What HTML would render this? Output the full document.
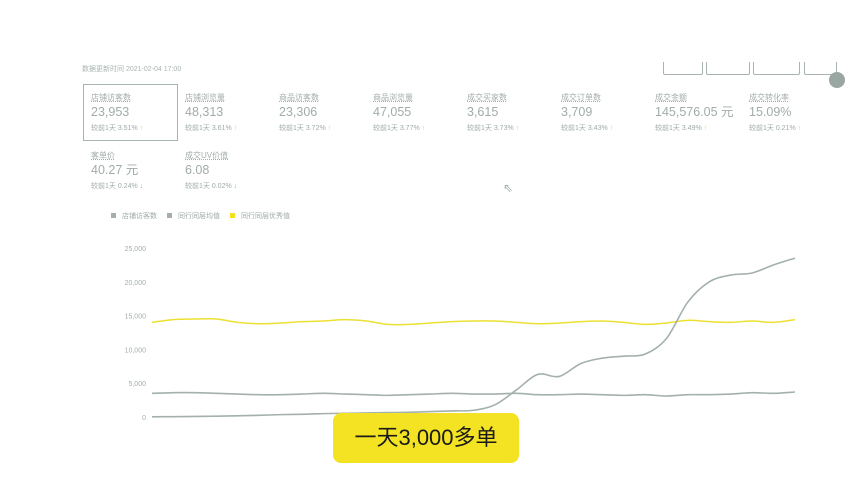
<!DOCTYPE html>
<html><head><meta charset="utf-8"><style>
body{margin:0;width:852px;height:480px;background:#fff;font-family:"Liberation Sans","Noto Sans CJK SC",sans-serif;position:relative;overflow:hidden;color:#9eaba7}
.card{position:absolute;width:94px;font-size:8px;white-space:nowrap}
.card .l{text-decoration:underline dotted;color:#a3aeab;height:10px}
.card .v{font-size:12.5px;margin-top:3px;color:#a0aca8;height:15px;line-height:15px}
.card .c{font-size:7px;margin-top:3px}
.up{color:#e8d820}
.btn{position:absolute;top:62px;height:12px;border:1px solid #a8b3b0;border-top:none;border-radius:0 0 2px 2px}
</style></head><body>
<div style="position:absolute;left:82px;top:64px;font-size:7px;color:#aab4b1">数据更新时间 2021-02-04 17:00</div>
<div class="btn" style="left:663px;width:38px"></div>
<div class="btn" style="left:706px;width:42px"></div>
<div class="btn" style="left:753px;width:45px"></div>
<div class="btn" style="left:804px;width:31px"></div>
<div style="position:absolute;left:829px;top:72px;width:16px;height:16px;border-radius:50%;background:#9aa6a2"></div>
<div style="position:absolute;left:83px;top:84px;width:93px;height:55px;border:1px solid #a8b3b0"></div>
<div id="cards"></div>
<div style="position:absolute;left:503px;top:181px;font-size:12px;color:#a0aca8">⇖</div>
<div style="position:absolute;left:111px;top:211px;font-size:7px;display:flex;gap:10px;align-items:center">
<span><span style="display:inline-block;width:5px;height:5px;background:#a3b0ac;margin-right:6px"></span>店铺访客数</span>
<span><span style="display:inline-block;width:5px;height:5px;background:#a3b0ac;margin-right:6px"></span>同行同层均值</span>
<span><span style="display:inline-block;width:5px;height:5px;background:#f0e020;margin-right:6px"></span>同行同层优秀值</span>
</div>
<svg id="chart" width="852" height="480" style="position:absolute;left:0;top:0"></svg>
<div style="position:absolute;left:333px;top:413px;width:186px;height:50px;background:#f3e323;border-radius:8px;font-size:22px;color:#1a1a1a;line-height:50px;text-align:center;font-family:'Liberation Sans','Noto Sans CJK SC',sans-serif">一天3,000多单</div>
<script>
const kpiLabels=["店铺访客数","店铺浏览量","商品访客数","商品浏览量","成交买家数","成交订单数","成交金额","成交转化率","客单价","成交UV价值"];
const kpiValues=["23,953","48,313","23,306","47,055","3,615","3,709","145,576.05 元","15.09%","40.27 元","6.08"];
const kpiChanges=["3.51%","3.61%","3.72%","3.77%","3.73%","3.43%","3.49%","0.21%","0.24%","0.02%"];
const kpiUp=[1,1,1,1,1,1,1,1,0,0];
const cards=document.getElementById('cards');
kpiLabels.forEach((l,i)=>{const d=document.createElement('div');d.className='card';


const r=i<8?0:1,c=i<8?i:i-8;d.style.left=(91+c*94)+'px';d.style.top=(92+r*58)+'px';
d.innerHTML=`<div class="l">${l}</div><div class="v">${kpiValues[i]}</div><div class="c">较前1天 ${kpiChanges[i]} <span class="${kpiUp[i]?'up':''}">${kpiUp[i]?'↑':'↓'}</span></div>`;cards.appendChild(d);});

const days=Array.from({length:31},(_,i)=>i+1);
const storeVisitors=[30,50,80,120,180,250,350,400,500,550,600,650,700,800,900,1000,1800,4000,6300,6000,7900,8700,9000,9300,11600,17000,20000,21000,21300,22500,23500];
const peerAvg=[3500,3600,3600,3500,3400,3300,3300,3400,3500,3400,3300,3200,3300,3400,3500,3400,3400,3500,3300,3300,3400,3300,3200,3300,3100,3300,3300,3400,3600,3500,3700];
const peerTop=[14000,14400,14500,14500,14000,13800,13900,14100,14200,14400,14200,13700,13700,13900,14100,14200,14200,14000,13800,13900,14100,14200,14000,13700,13900,14300,14100,14000,14200,14000,14400];
const yTicks=[0,5000,10000,15000,20000,25000];
const yTickLabels=["0","5,000","10,000","15,000","20,000","25,000"];
const x0=152,x1=795,y0=417,y1=248,yMax=25000;
const X=i=>x0+(x1-x0)*i/(days.length-1);
const Y=v=>y0-(y0-y1)*v/yMax;
const svg=document.getElementById('chart');const NS='http://www.w3.org/2000/svg';
yTicks.forEach((t,i)=>{const tx=document.createElementNS(NS,'text');


tx.setAttribute('x',146);tx.setAttribute('y',Y(t)+3);tx.setAttribute('text-anchor','end');tx.setAttribute('font-size','7');tx.setAttribute('fill','#a3aeab');tx.textContent=yTickLabels[i];svg.appendChild(tx);});
function line(vals,color,name,w){const pts=vals.map((v,i)=>[X(i),Y(v)]);let d='M'+pts[0][0]+','+pts[0][1];
for(let i=0;i<pts.length-1;i++){const p0=pts[Math.max(0,i-1)],p1=pts[i],p2=pts[i+1],p3=pts[Math.min(pts.length-1,i+2)];
const c1=[p1[0]+(p2[0]-p0[0])/6,p1[1]+(p2[1]-p0[1])/6],c2=[p2[0]-(p3[0]-p1[0])/6,p2[1]-(p3[1]-p1[1])/6];
d+=` C${c1[0]},${c1[1]} ${c2[0]},${c2[1]} ${p2[0]},${p2[1]}`;}
const p=document.createElementNS(NS,'path');


p.setAttribute('d',d);p.setAttribute('fill','none');p.setAttribute('stroke',color);p.setAttribute('stroke-width',w);svg.appendChild(p);}
line(peerTop,'#ece032','series-peer-top',1.5);
line(peerAvg,'#a3b0ac','series-peer-avg',1.6);
line(storeVisitors,'#a3b0ac','series-store-visitors',1.6);
</script>
</body></html>
